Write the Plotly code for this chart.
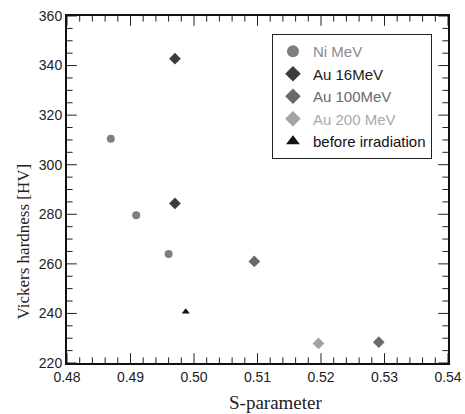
import plotly.graph_objects as go

ni_x = [0.4869, 0.4909, 0.4960]
ni_y = [310.5, 279.6, 264.0]
au16_x = [0.4970, 0.4970]
au16_y = [342.8, 284.4]
au100_x = [0.5095, 0.5291]
au100_y = [261.0, 228.4]
au200_x = [0.5196]
au200_y = [227.9]
before_x = [0.4987]
before_y = [240.7]

x_ticks = [0.48, 0.49, 0.50, 0.51, 0.52, 0.53, 0.54]
x_labels = ["0.48", "0.49", "0.50", "0.51", "0.52", "0.53", "0.54"]
y_ticks = [220, 240, 260, 280, 300, 320, 340, 360]
x_minor_per_major = 5
y_minor_per_major = 4

series = [
    ("Ni MeV", ni_x, ni_y, "circle", "#7f7f7f", 8),
    ("Au 16MeV", au16_x, au16_y, "diamond", "#3c3c3c", 9),
    ("Au 100MeV", au100_x, au100_y, "diamond", "#6a6a6a", 9),
    ("Au 200 MeV", au200_x, au200_y, "diamond", "#a3a3a3", 9),
    ("before irradiation", before_x, before_y, "triangle-up", "#111111", 7),
]
text_colors = ["#8a8a8a", "#1a1a1a", "#6a6a6a", "#a8a8a8", "#111111"]

# minor tick positions between the major ticks
x_minor = [a + (b - a) * k / x_minor_per_major
           for a, b in zip(x_ticks[:-1], x_ticks[1:]) for k in range(1, x_minor_per_major)]
y_minor = [a + (b - a) * k / y_minor_per_major
           for a, b in zip(y_ticks[:-1], y_ticks[1:]) for k in range(1, y_minor_per_major)]

fig = go.Figure()

# tick marks drawn as clipped line markers on the four frame edges (inside half remains)
xlo, xhi = x_ticks[0], x_ticks[-1]
ylo, yhi = y_ticks[0], y_ticks[-1]
tick_sets = [
    (x_ticks + x_ticks, [ylo] * len(x_ticks) + [yhi] * len(x_ticks), "line-ns-open", 14),
    (x_minor + x_minor, [ylo] * len(x_minor) + [yhi] * len(x_minor), "line-ns-open", 8),
    ([xlo] * len(y_ticks) + [xhi] * len(y_ticks), y_ticks + y_ticks, "line-ew-open", 14),
    ([xlo] * len(y_minor) + [xhi] * len(y_minor), y_minor + y_minor, "line-ew-open", 8),
]
for tx, ty, sym, sz in tick_sets:
    fig.add_trace(go.Scatter(
        x=tx, y=ty, mode="markers", showlegend=False, hoverinfo="skip", cliponaxis=True,
        marker=dict(symbol=sym, size=sz, color="#222222", line=dict(width=1, color="#222222")),
    ))

for (name, xs, ys, sym, col, sz), tc in zip(series, text_colors):
    fig.add_trace(go.Scatter(
        x=xs, y=ys, mode="markers",
        name=f'<span style="color:{tc}">{name}</span>',
        marker=dict(symbol=sym, color=col, size=sz, line=dict(width=0)),
    ))

fig.update_layout(template="none")

fig.update_xaxes(
    range=[xlo, xhi], tickmode="array", tickvals=x_ticks, ticktext=x_labels,
    showline=True, linecolor="#111111", linewidth=2, mirror=True,
    ticks="", showgrid=False, zeroline=False, automargin=False,
    tickfont=dict(family="Liberation Sans, Arial", size=14, color="#222222"),
)
fig.update_yaxes(
    range=[ylo, yhi], tickmode="array", tickvals=y_ticks,
    showline=True, linecolor="#111111", linewidth=2, mirror=True,
    ticks="", showgrid=False, zeroline=False, automargin=False,
    tickfont=dict(family="Liberation Sans, Arial", size=14, color="#222222"),
)

fig.add_annotation(
    text="S-parameter", xref="paper", yref="paper",
    x=0.549, y=-0.115, xanchor="center", yanchor="middle", showarrow=False,
    font=dict(family="Liberation Serif, Times New Roman", size=19, color="#222222"),
)
fig.add_annotation(
    text="Vickers hardness [HV]", xref="paper", yref="paper",
    x=-0.113, y=0.35, xanchor="center", yanchor="middle", textangle=-90, showarrow=False,
    font=dict(family="Liberation Serif, Times New Roman", size=17, color="#222222"),
)

fig.update_layout(
    width=465, height=414,
    margin=dict(l=67, r=17, t=16, b=51),
    paper_bgcolor="white", plot_bgcolor="white",
    showlegend=True,
    legend=dict(
        x=0.538, y=0.948, xanchor="left", yanchor="top",
        bgcolor="white", bordercolor="#222222", borderwidth=1,
        font=dict(family="Liberation Sans, Arial", size=15, color="#222222"),
        itemsizing="constant", itemwidth=30, tracegroupgap=0,
    ),
)

fig.write_html("out.html")
